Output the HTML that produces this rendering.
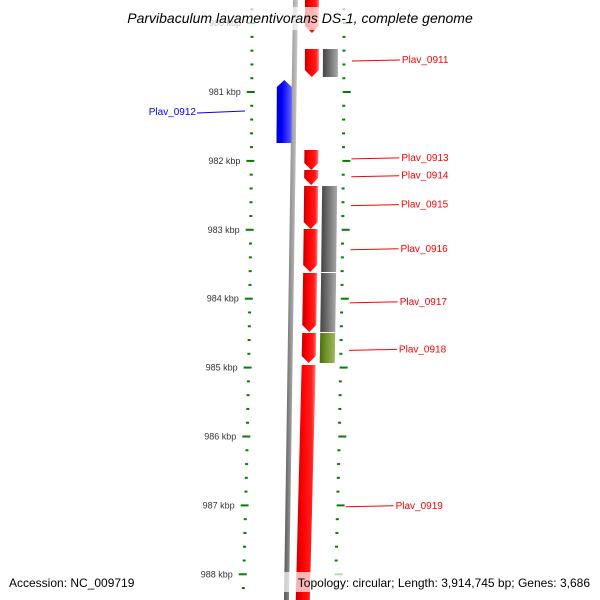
<!DOCTYPE html>
<html><head><meta charset="utf-8">
<style>
html,body{margin:0;padding:0;background:#fff;}
svg{display:block;font-family:"Liberation Sans","DejaVu Sans",sans-serif;}
</style></head>
<body>
<svg id="map" width="600" height="600" viewBox="0 0 600 600">
<defs>
<linearGradient id="gRed" x1="0" x2="1" y1="0" y2="0"><stop offset="0" stop-color="#c00000"/><stop offset="0.35" stop-color="#ff0000"/><stop offset="0.8" stop-color="#ff2020"/><stop offset="1" stop-color="#ff8080"/></linearGradient>
<linearGradient id="gBlue" x1="0" x2="1" y1="0" y2="0"><stop offset="0" stop-color="#0000c0"/><stop offset="0.35" stop-color="#0000ff"/><stop offset="1" stop-color="#6060ff"/></linearGradient>
<linearGradient id="gGray" x1="0" x2="1" y1="0" y2="0"><stop offset="0" stop-color="#444"/><stop offset="0.35" stop-color="#666"/><stop offset="1" stop-color="#aaa"/></linearGradient>
<linearGradient id="gOlive" x1="0" x2="1" y1="0" y2="0"><stop offset="0" stop-color="#4d6a10"/><stop offset="0.35" stop-color="#6b8e23"/><stop offset="1" stop-color="#a0b860"/></linearGradient>
<linearGradient id="gBack" x1="0" x2="1" y1="0" y2="0"><stop offset="0" stop-color="#555"/><stop offset="0.5" stop-color="#999"/><stop offset="1" stop-color="#ccc"/></linearGradient>
</defs>
<g id="layer"></g>
</svg>
<script>
// ---- data ----
const tickLabels = [980, 981, 982, 983, 984, 985, 986, 987, 988];
const geneNames  = ["top", "Plav_0911", "Plav_0911b", "Plav_0912", "Plav_0913", "Plav_0914", "Plav_0915", "Plav_0916", "Plav_0917", "Plav_0918", "Plav_0919", "col2a", "col2b", "col2c"];
const geneStart  = [979.37, 980.376, 980.376, 980.826, 981.842, 982.132, 982.364, 982.988, 983.627, 984.498, 984.962, 982.364, 983.627, 984.498];
const geneEnd    = [980.144, 980.782, 980.782, 981.740, 982.132, 982.350, 982.988, 983.612, 984.483, 984.933, 988.6, 983.612, 984.483, 984.933];
const geneTrack  = ["fwd", "fwd", "col2", "rev", "fwd", "fwd", "fwd", "fwd", "fwd", "fwd", "fwd", "col2", "col2", "col2"];
const geneColor  = ["gRed", "gRed", "gGray", "gBlue", "gRed", "gRed", "gRed", "gRed", "gRed", "gRed", "gRed", "gGray", "gGray", "gOlive"];
const labelNames = ["Plav_0911", "Plav_0912", "Plav_0913", "Plav_0914", "Plav_0915", "Plav_0916", "Plav_0917", "Plav_0918", "Plav_0919"];
const labelKbp   = [980.55, 981.29, 981.97, 982.23, 982.65, 983.29, 984.06, 984.75, 987.02];

// ---- axis functions ----
const NS = "http://www.w3.org/2000/svg";
const layer = document.getElementById("layer");
function yOf(kbp){ return 92 + (kbp - 981) * 68.9; }
function sx(y){ return -9 * Math.pow(Math.max(y,0)/600, 2); }
const trackX = { rev:[277,292], fwd:[305,319], col2:[323,338] };
function mk(tag, attrs){ const e=document.createElementNS(NS,tag); for(const k in attrs) e.setAttribute(k, attrs[k]); return e; }

// backbone
{
  const p = mk("polygon", {points:`${293+sx(0)},0 ${298+sx(0)},0 ${298+sx(600)},600 ${293+sx(600)},600`, fill:"url(#gBack)"});
  
  
  layer.appendChild(p);
}

// ticks
function addTicks(baseX, side){
  for(let k = 979.6; k <= 988.5; k += 0.2){
    const kk = Math.round(k*10)/10;
    const y = yOf(kk);
    if (y < -2 || y > 602) continue;
    const major = Math.abs(kk - Math.round(kk)) < 0.01;
    const x = baseX + sx(y);
    const w = major ? 8 : 3;
    const x0 = side === "left" ? (major ? x-5 : x-1.5) : (major ? x-1 : x-1.5);
    const r = mk("rect", {x:x0, y:y-1, width:w, height:2, fill:"#008000"});
    
    
    layer.appendChild(r);
  }
}
addTicks(252, "left");
addTicks(344, "right");

tickLabels.forEach(function(t){
  const y = yOf(t);
  const t1 = mk("text", {x:241 + sx(y), y:y+3, "font-size":"9", fill:"#333", "text-anchor":"end"});
  t1.textContent = t + " kbp";
  
  
  layer.appendChild(t1);
});

// genes
geneNames.forEach(function(n, i){
  const tr = trackX[geneTrack[i]];
  const y0 = yOf(geneStart[i]), y1 = yOf(geneEnd[i]);
  const a = sx(y0), b = sx(y1);
  const L = tr[0], R = tr[1], M = (L+R)/2;
  let pts;
  if (geneTrack[i] === "fwd"){
    pts = `${L+a},${y0} ${R+a},${y0} ${R+b},${y1-7} ${M+b},${y1} ${L+b},${y1-7}`;
  } else if (geneTrack[i] === "rev"){
    pts = `${M+a},${y0} ${R+a},${y0+7} ${R+b},${y1} ${L+b},${y1} ${L+a},${y0+7}`;
  } else {
    pts = `${L+a},${y0} ${R+a},${y0} ${R+b},${y1} ${L+b},${y1}`;
  }
  const p = mk("polygon", {points:pts, fill:"url(#"+geneColor[i]+")"});
  
  
  layer.appendChild(p);
});

// labels
labelNames.forEach(function(n, i){
  const y = yOf(labelKbp[i]);
  const blue = n === "Plav_0912";
  const col = blue ? "#0000ff" : "#ff0000";
  let line, txt;
  if (blue){
    line = mk("line", {x1:197, y1:y+1, x2:245, y2:y-1, stroke:col, "stroke-width":1});
    txt = mk("text", {x:196, y:y+3, "font-size":"10", fill:col, "text-anchor":"end"});
  } else {
    const xs = 352 + sx(y);
    line = mk("line", {x1:xs, y1:y, x2:xs+48, y2:y-1, stroke:col, "stroke-width":1});
    txt = mk("text", {x:xs+50, y:y+2, "font-size":"10", fill:col});
  }
  
  
  txt.textContent = n;
  
  
  layer.appendChild(line);
  layer.appendChild(txt);
});

// overlays
function addBox(x,y,w,h,name){
  const r = mk("rect",{x:x,y:y,width:w,height:h,fill:"#fff","fill-opacity":"0.7"});
  
  
  layer.appendChild(r);
}
addBox(110,7,380,23,"title-background");
addBox(5,572,115,20,"accession-background");
addBox(258,572,336,20,"topology-background");

function addText(x,y,s,txt,name,anchor,italic){
  const t = mk("text",{x:x,y:y,"font-size":s,fill:"#000","text-anchor":anchor||"start"});
  if (italic) t.setAttribute("font-style","italic");
  t.textContent = txt;
  
  
  layer.appendChild(t);
}
addText(300,23,"14","Parvibaculum lavamentivorans DS-1, complete genome","chart-title","middle",true);
addText(9,587,"12","Accession: NC_009719","accession-text");
addText(590,587,"12","Topology: circular; Length: 3,914,745 bp; Genes: 3,686","topology-text","end");
</script>
</body></html>
